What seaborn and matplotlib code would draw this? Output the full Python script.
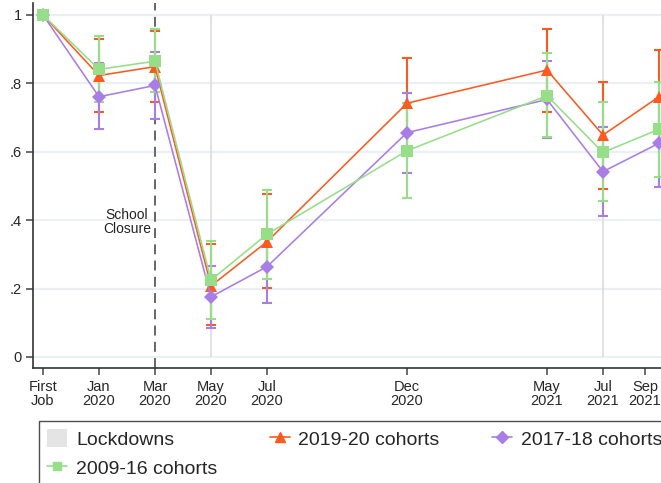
import matplotlib
matplotlib.use("Agg")
import matplotlib.pyplot as plt
from matplotlib.lines import Line2D
from matplotlib.patches import Patch
import seaborn as sns
import numpy as np

# Survey waves, expressed as months since the first job (Nov 2019 = 0)
wave_labels = ["First\nJob", "Jan\n2020", "Mar\n2020", "May\n2020", "Jul\n2020",
               "Dec\n2020", "May\n2021", "Jul\n2021", "Sep\n2021"]
wave_months = [0, 2, 4, 6, 8, 13, 18, 20, 22]
tick_months = [0, 2, 4, 6, 8, 13, 18, 20, 21.5]

# Share still employed, relative to first job, with 95% confidence bounds
c1920_mean = [1.0, 0.823, 0.849, 0.208, 0.337, 0.742, 0.839, 0.649, 0.761]
c1920_low = [1.0, 0.717, 0.747, 0.094, 0.203, 0.609, 0.717, 0.491, 0.624]
c1920_high = [1.0, 0.929, 0.954, 0.330, 0.478, 0.875, 0.958, 0.804, 0.898]

c1718_mean = [1.0, 0.761, 0.794, 0.176, 0.264, 0.656, 0.753, 0.542, 0.625]
c1718_low = [1.0, 0.666, 0.696, 0.084, 0.159, 0.539, 0.641, 0.413, 0.496]
c1718_high = [1.0, 0.861, 0.891, 0.267, 0.369, 0.773, 0.865, 0.673, 0.754]

c0916_mean = [1.0, 0.841, 0.865, 0.225, 0.359, 0.603, 0.764, 0.598, 0.666]
c0916_low = [1.0, 0.747, 0.774, 0.111, 0.227, 0.464, 0.643, 0.455, 0.527]
c0916_high = [1.0, 0.939, 0.959, 0.340, 0.488, 0.742, 0.888, 0.745, 0.805]

lockdown_months = [6, 20]
closure_month = 4

y_ticks = [0, 0.2, 0.4, 0.6, 0.8, 1.0]
y_ticklabels = ["0", ".2", ".4", ".6", ".8", "1"]

series = [
    ("2019-20 cohorts", c1920_mean, c1920_low, c1920_high, "#fd5a20", "^", 8.5),
    ("2017-18 cohorts", c1718_mean, c1718_low, c1718_high, "#a97de6", "D", 7.0),
    ("2009-16 cohorts", c0916_mean, c0916_low, c0916_high, "#97de89", "s", 8.0),
]

sns.set_theme(style="ticks")
plt.rcParams["font.family"] = ["Liberation Sans", "DejaVu Sans"]

fig = plt.figure(figsize=(6.61, 4.83), dpi=100)
left_px, right_px, top_px, bottom_px = 33, 680, 3, 368
W, H = 661, 483
ax = fig.add_axes([left_px / W, 1 - bottom_px / H,
                   (right_px - left_px) / W, (bottom_px - top_px) / H])
ax.set_facecolor("white")

# horizontal grid
for yv in y_ticks:
    ax.axhline(yv, color="#eaf0f3", lw=1.6, zorder=0)

# lockdown markers
ax.vlines(lockdown_months, 0, 1, color="#dadada", lw=1.1, zorder=0.5)

# school closure
ax.axvline(closure_month, color="#5a5a5a", lw=1.3, ls=(0, (5.5, 3.5)), zorder=1)
ax.text(closure_month - 0.15, 0.395, "School\nClosure", ha="right", va="center",
        multialignment="center", fontsize=10, linespacing=0.95, color="#222222")

# confidence intervals
x = np.array(wave_months, dtype=float)
for name, m, lo, hi, col, mk, ms in series:
    m = np.array(m); lo = np.array(lo); hi = np.array(hi)
    ax.errorbar(x, m, yerr=[m - lo, hi - m], fmt="none", ecolor=col,
                elinewidth=1.5, capsize=3.8, capthick=1.5, zorder=1.5)

# connected means
for name, m, lo, hi, col, mk, ms in series:
    sns.lineplot(x=x, y=m, color=col, marker=mk, markersize=ms,
                 markeredgewidth=0, linewidth=1.15, ax=ax, legend=False,
                 zorder=2)

ax.set_xlim((left_px - 43) / 28, (right_px - 43) / 28)
ax.set_ylim((357 - bottom_px) / 342, (357 - top_px) / 342)

ax.set_xticks(tick_months)
ax.set_xticklabels(wave_labels, fontsize=10.5, linespacing=1.0)
ax.set_yticks(y_ticks)
ax.set_yticklabels(y_ticklabels, fontsize=10.5)
ax.tick_params(axis="x", length=5, width=1.1, color="#444444", pad=3.5)
ax.tick_params(axis="y", length=5, width=1.1, color="#444444", pad=3)
ax.set_xlabel("")
ax.set_ylabel("")
for side in ["top", "right"]:
    ax.spines[side].set_visible(False)
for side in ["left", "bottom"]:
    ax.spines[side].set_color("#333333")
    ax.spines[side].set_linewidth(1.2)

handles = [
    Patch(facecolor="#e4e4e4", edgecolor="none", label="Lockdowns"),
    Line2D([], [], color=series[2][4], marker="s", markersize=6, lw=1.2, label="2009-16 cohorts"),
    Line2D([], [], color=series[0][4], marker="^", markersize=7, lw=1.2, label="2019-20 cohorts"),
    Line2D([], [], color=series[1][4], marker="D", markersize=6, lw=1.2, label="2017-18 cohorts"),
]
leg = fig.legend(handles=handles, loc="upper left",
                 bbox_to_anchor=(39 / W, 1 - 421 / H), ncol=3, fontsize=14,
                 frameon=True, fancybox=False, edgecolor="#222222",
                 borderaxespad=0, handlelength=1.03, handletextpad=0.45,
                 columnspacing=2.7, labelspacing=0.5, borderpad=0.42,
                 handleheight=1.0)
leg.get_frame().set_linewidth(1.0)

fig.savefig("out.png", dpi=100)
